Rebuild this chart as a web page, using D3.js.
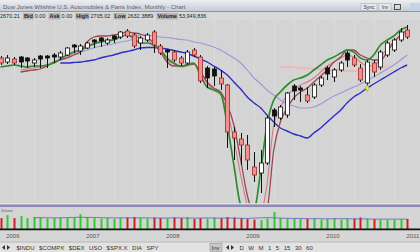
<!DOCTYPE html>
<html>
<head>
<meta charset="utf-8">
<script src="https://cdn.jsdelivr.net/npm/d3@7"></script>
<style>
  body { margin: 0; background: #d4d4d4; overflow: hidden; }
  svg { display: block; font-family: 'Liberation Sans', Arial, sans-serif; }
</style>
</head>
<body>
<div id="chart"></div>
<script>
// monthly bars, Nov 2005 .. Dec 2010
const opens = [310,302,308,312,310,300,314,314,316,312, 316,336,324,330,346,350,340,354,352,364, 356,340,346,362,334,326,322,310,300,326, 312,290,288,270,256,162,148,136,92,80, 100,206,190,196,254,250,236,232,256,290, 272,286,320,310,290,260,300,292,316,326, 346,366]
const highs = [314,316,312,314,312,310,316,316,320,324, 332,338,338,342,348,352,350,356,364,368, 360,354,360,366,338,328,326,314,326,330, 316,294,292,286,258,172,160,156,122,126, 194,210,216,242,258,254,252,260,274,294, 290,304,324,316,298,306,306,326,344,350, 370,376]
const lows = [296,298,296,290,290,292,290,290,300,306, 314,320,316,328,330,332,336,340,348,350, 330,326,342,320,316,290,302,294,296,312, 260,250,254,246,130,106,96,86,62,40, 96,172,186,190,226,222,220,228,252,266, 262,282,292,292,262,254,272,286,312,322, 342,348]
const closes = [300,310,300,302,304,306,308,310,312,320, 330,332,334,340,342,344,346,348,362,354, 334,350,356,336,320,322,306,300,322,316, 264,270,274,258,162,150,136,106,76,100, 190,194,212,240,244,246,224,256,270,278, 286,300,306,296,266,302,282,322,340,346, 362,352]
const volumes = [52,66,52,62,52,57,55,50,52,55, 53,55,71,57,52,50,52,48,52,55, 57,52,50,55,52,50,55,52,57,48, 52,50,55,52,57,55,52,48,45,42, 50,81,52,50,48,47,48,50,45,48, 50,45,48,50,55,48,47,45,44,45, 47,48]

// overlay lines
const greenLine = [292,294,296,294,292,294,294,296,300,308, 316,322,326,332,338,342,344,346,352,356, 350,340,340,336,326,310,300,294,296,300, 276,252,246,240,176,96,16,2,6,86, 176,226,242,256,266,270,276,286,296,306, 312,320,326,322,310,306,316,336,346,354, 366,372]
const brownLine = [null,null,null,282,284,286,288,294,302,306, 310,316,322,342,352,354,354,356,358,362, 360,358,352,340,322,302,294,294,296,298, 282,262,250,242,216,176,106,36,-4,-14, 6,126,182,210,230,242,250,262,274,286, 302,312,326,326,316,310,306,306,322,342, 356,366]
const mauveLine = [null,null,null,286,288,290,292,294,300,306, 312,320,326,334,340,344,346,348,352,356, 354,350,346,336,322,306,298,292,294,298, 282,260,246,236,202,146,76,16,-24,-4, 56,176,210,236,246,256,262,270,282,294, 302,310,316,312,302,294,294,310,330,342, 354,360]
const blueLine = [null,null,null,null,null,null,null,null,null,300, 300,301,302,304,306,310,313,316,320,323, 326,330,331,331,330,328,325,322,319,314, 308,302,294,286,276,262,248,232,220,210, 196,182,170,164,158,154,150,160,170,182, 194,206,220,232,240,250,258,266,274,282, 290,296]
const lavenderLine = [null,null,null,null,null,null,null,null,null,null, null,318,322,326,330,334,336,338,342,344, 348,356,356,354,352,351,349,347,346,342, 340,336,332,326,318,310,300,286,270,258, 246,236,226,218,214,210,210,212,218,226, 234,240,246,252,258,266,272,280,288,296, 306,316]
const paleLine = [null,null,null,null,null,null,null,null,null,null, null,null,null,null,null,null,null,null,null,null, null,null,null,null,null,null,null,null,null,null, null,null,null,null,null,null,null,null,null,null, null,null,292,292,292,290,290,288,288,286, 286,286,284,284,284,286,288,290,294,null, null,null]
const volumeAvg = [null,null,null,null,null,54,54,53,53,53, 54,55,56,55,55,54,53,53,53,53, 53,53,53,52,52,52,53,53,52,52, 52,53,52,52,52,52,51,50,52,53, 54,53,52,51,50,50,49,49,49,48, 49,49,49,48,48,48,47,47,47,47, 47,47]
const alertMarks = [55]

const titleText = 'Dow Jones Wilshire U.S. Automobiles & Parts Index, Monthly - Chart'
const infoLabels = ['', 'Bid', 'Ask', 'High', 'Low', 'Volume']
const infoValues = ['2670.21', '0.00', '0.00', '2705.02', '2632.3889', '53,949,836']
const symbolTabs = ['$INDU', '$COMPX', '$DEX', 'USO', '$SPX.X', 'DIA', 'SPY']
const periodTabs = ['D', 'W', 'M', '1', '5', '15', '30', '60']

const W = 420, H = 252
const svg = d3.select('#chart').append('svg').attr('width', W).attr('height', H)

const months = d3.timeMonth.range(new Date(2005, 10, 1), new Date(2011, 0, 1))
const x = d3.scaleTime().domain([new Date(2005, 10, 1), new Date(2011, 0, 1)]).range([0.5, 414])
const y = d3.scaleLinear().domain([20, 396]).range([203, 15])
const yv = d3.scaleLinear().domain([0, 100]).range([229, 208])

const bars = months.map((d, i) => ({
  date: d, open: opens[i], high: highs[i], low: lows[i], close: closes[i],
  prev: i ? closes[i - 1] : opens[i], volume: volumes[i]
}))

// ---- header
const grad = svg.append('defs').append('linearGradient').attr('id', 'tb').attr('x1', 0).attr('y1', 0).attr('x2', 0).attr('y2', 1)
grad.append('stop').attr('offset', 0).attr('stop-color', '#eceef2')
grad.append('stop').attr('offset', 1).attr('stop-color', '#c6ccd6')
svg.append('rect').attr('width', W).attr('height', 11).attr('fill', 'url(#tb)')
svg.append('line').attr('x1', 0).attr('x2', W).attr('y1', 11.5).attr('y2', 11.5).attr('stroke', '#8e96a6')
svg.append('text').attr('x', 3).attr('y', 8.5).attr('font-size', 6).attr('fill', '#5a6070').text(titleText)

const btns = [['Sync', 361, 16], ['Inv', 379, 12]]
btns.forEach(([t, bx, bw]) => {
  svg.append('rect').attr('x', bx).attr('y', 3.5).attr('width', bw).attr('height', 7).attr('fill', '#e6e8ec').attr('stroke', '#a0a6b0').attr('stroke-width', 0.5)
  svg.append('text').attr('x', bx + bw / 2).attr('y', 9).attr('text-anchor', 'middle').attr('font-size', 5).attr('fill', '#333').text(t)
})
svg.append('rect').attr('x', 394.5).attr('y', 4.5).attr('width', 6).attr('height', 5).attr('fill', 'none').attr('stroke', '#333').attr('stroke-width', 0.8)
svg.append('rect').attr('x', 410).attr('y', 3).attr('width', 10).attr('height', 8).attr('fill', '#c6d3e6')

svg.append('rect').attr('y', 12).attr('width', W).attr('height', 8).attr('fill', '#d9d9d9')
let ix = 0
infoLabels.forEach((lab, i) => {
  const g = svg.append('g')
  if (lab) {
    const t = g.append('text').attr('x', ix + 1).attr('y', 18).attr('font-size', 5.5).attr('font-weight', 'bold').attr('fill', '#222').text(lab)
    const lw = t.node().getComputedTextLength() + 2
    g.insert('rect', 'text').attr('x', ix).attr('y', 13).attr('width', lw).attr('height', 6.5).attr('fill', '#b4b4b4')
    ix += lw + 1
  }
  const v = g.append('text').attr('x', ix).attr('y', 18).attr('font-size', 5.5).attr('fill', '#222').text(infoValues[i])
  ix += v.node().getComputedTextLength() + 3
})

// ---- price panel
svg.append('clipPath').attr('id', 'pc').append('rect').attr('x', 0).attr('y', 20).attr('width', W).attr('height', 183.5)
svg.append('rect').attr('x', 0).attr('y', 20).attr('width', W).attr('height', 184).attr('fill', '#d4d4d4')
const price = svg.append('g').attr('clip-path', 'url(#pc)')

price.append('g').selectAll('line')
  .data(d3.timeMonth.every(3).range(new Date(2005, 10, 1), new Date(2011, 0, 1)))
  .join('line')
  .attr('x1', d => Math.round(x(d)) + 0.5).attr('x2', d => Math.round(x(d)) + 0.5)
  .attr('y1', 20).attr('y2', 204)
  .attr('stroke', '#dcdcdc').attr('stroke-width', 1)

const line = d3.line().defined(v => v != null).x((v, i) => x(months[i])).y(v => y(v)).curve(d3.curveMonotoneX)
const overlays = [
  [paleLine, '#ecb8b8', 2],
  [lavenderLine, '#9898dc', 1.1],
  [blueLine, '#2c2cc8', 1.4],
  [mauveLine, '#c87c86', 1.1],
  [brownLine, '#9a4650', 1.3],
  [greenLine, '#318a31', 1.7]
]
overlays.forEach(([vals, c, w]) => {
  price.append('path').datum(vals).attr('d', line).attr('fill', 'none').attr('stroke', c).attr('stroke-width', w)
})

const up = d => d.close >= d.open
const fillOf = d => up(d) ? '#ffffff' : (d.close >= d.prev ? '#111111' : '#f3908e')
const strokeOf = d => up(d) ? '#111111' : (d.close >= d.prev ? '#111111' : '#9a2c2c')

const cg = price.append('g').selectAll('g').data(bars).join('g')
cg.append('line')
  .attr('x1', d => Math.round(x(d.date)) + 0.5).attr('x2', d => Math.round(x(d.date)) + 0.5)
  .attr('y1', d => y(d.high)).attr('y2', d => y(d.low))
  .attr('stroke', '#111').attr('stroke-width', 1)
cg.append('rect')
  .attr('x', d => Math.round(x(d.date)) - 1.5)
  .attr('width', 4)
  .attr('y', d => y(Math.max(d.open, d.close)))
  .attr('height', d => Math.max(1, Math.abs(y(d.open) - y(d.close))))
  .attr('fill', fillOf).attr('stroke', strokeOf).attr('stroke-width', 0.8)

price.selectAll('.alert').data(alertMarks).join('path')
  .attr('class', 'alert')
  .attr('d', d3.symbol(d3.symbolDiamond, 14))
  .attr('transform', i => `translate(${x(months[i])},${y(blueLine[i])})`)
  .attr('fill', '#dfe83c').attr('stroke', '#9aa020').attr('stroke-width', 0.5)

// ---- separator
svg.append('rect').attr('x', 0).attr('y', 203.5).attr('width', W).attr('height', 1).attr('fill', '#eeeeee')
svg.append('rect').attr('x', 0).attr('y', 204.5).attr('width', W).attr('height', 2.5).attr('fill', '#8a8ab4')

// ---- volume panel
svg.append('rect').attr('x', 0).attr('y', 207).attr('width', W).attr('height', 22).attr('fill', '#d4d4d4')
svg.append('text').attr('x', 1).attr('y', 211.5).attr('font-size', 3.6).attr('fill', '#666').text('Volume')
svg.append('g').selectAll('rect').data(bars).join('rect')
  .attr('x', d => Math.round(x(d.date)) - 0.5)
  .attr('width', 2)
  .attr('y', d => yv(d.volume))
  .attr('height', d => yv(0) - yv(d.volume))
  .attr('fill', d => d.close >= d.prev ? '#2fcc2f' : '#cc2020')
svg.append('path').datum(volumeAvg)
  .attr('d', d3.line().defined(v => v != null).x((v, i) => x(months[i])).y(v => yv(v)))
  .attr('fill', 'none').attr('stroke', '#5a62b8').attr('stroke-width', 0.8)
svg.append('rect').attr('x', 0).attr('y', 228.5).attr('width', W).attr('height', 2).attr('fill', '#111')

// ---- time axis
svg.append('rect').attr('x', 0).attr('y', 230.5).attr('width', W).attr('height', 11).attr('fill', '#d6d6d6')
const xAxis = svg.append('g').attr('transform', 'translate(-1.5,231)')
  .call(d3.axisBottom(x).ticks(d3.timeYear.every(1)).tickFormat(d3.timeFormat('%Y')).tickSize(0).tickPadding(3))
xAxis.select('.domain').remove()
xAxis.selectAll('text').attr('font-size', 6).attr('fill', '#555').attr('font-family', 'Liberation Sans, Arial, sans-serif')

// ---- bottom tabs
svg.append('rect').attr('x', 0).attr('y', 242).attr('width', W).attr('height', 10).attr('fill', '#e2e2e2')
svg.append('line').attr('x1', 0).attr('x2', W).attr('y1', 242).attr('y2', 242).attr('stroke', '#b8b8b8')
const arrows = (ax) => {
  svg.append('path').attr('d', `M${ax},247.5 l3,-2.5 v5 z`).attr('fill', '#333')
  svg.append('path').attr('d', `M${ax + 8},247.5 l-3,-2.5 v5 z`).attr('fill', '#333')
}
arrows(2)
let tx = 15
symbolTabs.forEach(s => {
  const t = svg.append('text').attr('x', tx + 1.5).attr('y', 250).attr('font-size', 6).attr('fill', '#333').text(s)
  const w = t.node().getComputedTextLength() + 3
  svg.insert('rect', 'text').attr('x', tx).attr('y', 243.5).attr('width', w).attr('height', 8).attr('fill', '#c8c8c8').attr('stroke', '#8c8c8c').attr('stroke-width', 0.5)
  tx += w + 1.5
})
svg.append('rect').attr('x', 210).attr('y', 243.5).attr('width', 12).attr('height', 8).attr('fill', '#c8c8c8').attr('stroke', '#8c8c8c').attr('stroke-width', 0.5)
svg.append('text').attr('x', 211.5).attr('y', 250).attr('font-size', 6).attr('fill', '#333').text('Inv')
arrows(226)
let px = 238
periodTabs.forEach(s => {
  const t = svg.append('text').attr('x', px + 1.5).attr('y', 250).attr('font-size', 6).attr('fill', '#333').text(s)
  const w = t.node().getComputedTextLength() + 3
  svg.insert('rect', 'text').attr('x', px).attr('y', 243.5).attr('width', w).attr('height', 8).attr('fill', '#c8c8c8').attr('stroke', '#8c8c8c').attr('stroke-width', 0.5)
  px += w + 1.5
})
</script>
</body>
</html>
